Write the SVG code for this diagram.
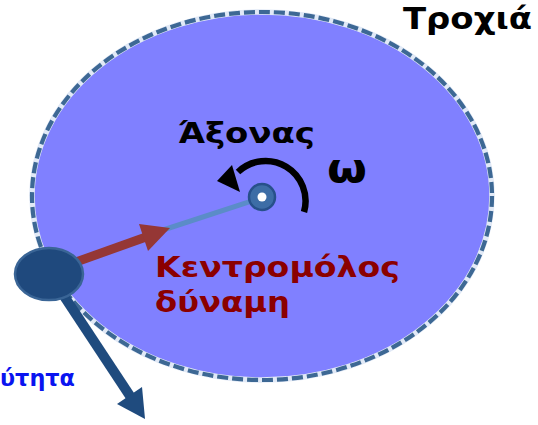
<svg xmlns="http://www.w3.org/2000/svg" width="538" height="425" viewBox="0 0 538 425">
<style>
.t{font-family:"DejaVu Sans","Verdana",sans-serif;font-weight:bold}
</style>
<rect width="538" height="425" fill="#ffffff"/>
<g id="orbit">
<ellipse cx="262" cy="196" rx="230" ry="184" fill="#8080ff" stroke="#e1e9f6" stroke-width="5.5"/>
<ellipse cx="262" cy="196" rx="230" ry="184" fill="none" stroke="#3d6894" stroke-width="4.2" stroke-dasharray="11 4"/>
</g>
<g id="connectors">
<path d="M304,212 A40,40 0 0 0 238,172" fill="none" stroke="#000000" stroke-width="6.5"/>
<polygon points="217,181 232,165 240,192" fill="#000000"/>
<line x1="160" y1="231" x2="258" y2="199" stroke="#5b8cc8" stroke-width="5"/>
<line x1="76" y1="262" x2="146" y2="237" stroke="#953735" stroke-width="9"/>
<polygon points="170,228 139,224 148,251" fill="#953735"/>
<line x1="60" y1="290" x2="132" y2="399" stroke="#1f4b7e" stroke-width="10"/>
<polygon points="145,419 117,404 142,387" fill="#1f4b7e"/>
</g>
<g id="axis">
<circle cx="262" cy="197" r="13" fill="#3d6da6" stroke="#27508a" stroke-width="2.5"/>
<circle cx="262" cy="197" r="4.5" fill="#ffffff"/>
</g>
<g id="ball">
<ellipse cx="49" cy="274" rx="34" ry="26" fill="#1f497d" stroke="#3a6596" stroke-width="2.5"/>
</g>
<g id="labels">
<text class="t" x="403" y="29" font-size="30" fill="#000000" textLength="129" lengthAdjust="spacingAndGlyphs">Τροχιά</text>
<text class="t" x="178" y="143" font-size="29" fill="#000000" textLength="137" lengthAdjust="spacingAndGlyphs">Άξονας</text>
<text class="t" x="327" y="182" font-size="40" fill="#000000" textLength="40" lengthAdjust="spacingAndGlyphs">ω</text>
<text class="t" x="155" y="277" font-size="29" fill="#8b0000" textLength="245" lengthAdjust="spacingAndGlyphs">Κεντρομόλος</text>
<text class="t" x="155" y="312" font-size="29" fill="#8b0000" textLength="135" lengthAdjust="spacingAndGlyphs">δύναμη</text>
<text class="t" x="0" y="386" font-size="23" fill="#0a14f0" textLength="75" lengthAdjust="spacingAndGlyphs">ύτητα</text>
</g>
</svg>
